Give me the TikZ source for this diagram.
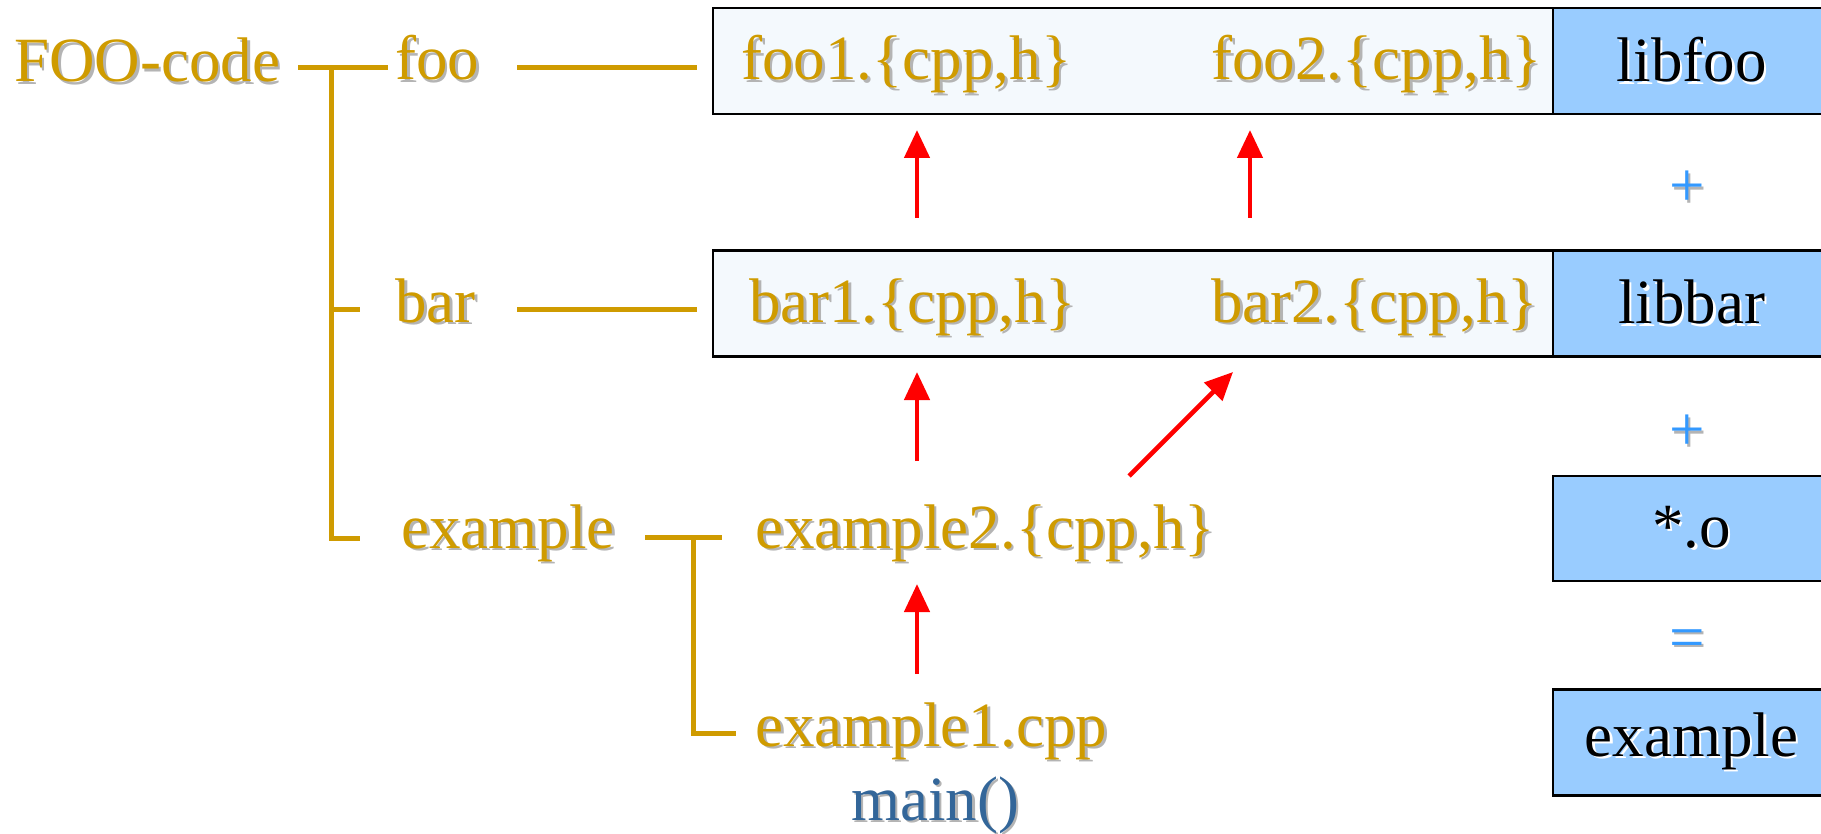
\documentclass[tikz,border=0pt]{standalone}
\usepackage{fontspec}
\setmainfont{Liberation Serif}
\usetikzlibrary{arrows.meta}
\definecolor{gold}{RGB}{207,155,0}
\definecolor{paleblue}{RGB}{244,249,253}
\definecolor{libblue}{RGB}{153,204,255}
\definecolor{opblue}{RGB}{51,153,255}
\definecolor{fnblue}{RGB}{51,102,153}
\definecolor{shadowgray}{RGB}{180,180,180}
\definecolor{depred}{RGB}{255,0,0}
% text with a drop shadow of the given colour
\newcommand\shdc[2]{\leavevmode\rlap{\kern1.3pt\raisebox{-1.3pt}{\color{#1}#2}}#2}
\newcommand\shd[1]{\shdc{shadowgray}{#1}}
\newcommand\shw[1]{\shdc{white}{#1}}

\begin{document}
\begin{tikzpicture}[x=0.5pt,y=-0.5pt,
  lbl/.style={inner sep=0pt, font=\fontsize{31.5}{36}\selectfont},
  src/.style={lbl, text=gold, anchor=base west},
  op/.style={lbl, text=opblue},
  srcbox/.style={draw=black, line width=1.2pt, fill=paleblue, minimum width=420pt, minimum height=53pt, inner sep=0pt},
  libbox/.style={draw=black, line width=1.2pt, fill=libblue, minimum width=138.5pt, minimum height=53pt, lbl, text=black},
  tree/.style={draw=gold, line width=2.5pt},
  dep/.style={draw=depred, line width=2.3pt, -{Triangle[width=12.5pt,length=14pt]}}]
\useasboundingbox (0,0) rectangle (1821,834);
\clip (0,0) rectangle (1821,834);

% source directories
\node[src] (root) at (14,82) {\shd{FOO-code}};
\node[src] (foo) at (395,80) {\shd{foo}};
\node[src] (bar) at (395,322) {\shd{bar}};
\node[src] (ex) at (401,548) {\shd{example}};

% boxes holding the library sources
\node[srcbox] (foobox) at (1133,61) {};
\node[srcbox] (barbox) at (1133,303.5) {};
\node[src] (foo1) at (741,80) {\shd{foo1.\{cpp,h\}}};
\node[src] (foo2) at (1211,80) {\shd{foo2.\{cpp,h\}}};
\node[src] (bar1) at (749,322) {\shd{bar1.\{cpp,h\}}};
\node[src] (bar2) at (1211,322) {\shd{bar2.\{cpp,h\}}};
\node[src] (ex2) at (755,548) {\shd{example2.\{cpp,h\}}};
\node[src] (ex1) at (755,746) {\shd{example1.cpp}};
\node[lbl, text=fnblue, anchor=base] (mainfn) at (935,820) {\shd{main()}};

% link products
\node[libbox] (libfoo) at (1691.5,61) {\shw{libfoo}};
\node[libbox] (libbar) at (1691.5,303.5) {\shw{libbar}};
\node[libbox, minimum height=52.5pt] (objs) at (1691.5,528.5) {\shw{*.o}};
\node[libbox] (exe) at (1691.5,742.5) {\shw{example}};
\node[op] (plus1) at (1687,190) {\shd{+}};
\node[op] (plus2) at (1687,434) {\shd{+}};
\node[op] (eq) at (1687,645) {\shd{=}};

% directory tree
\coordinate (r0) at (298,68);
\coordinate (r1) at (388,68);
\coordinate (rt) at (331,68);
\coordinate (rb) at (331,310);
\coordinate (rbt) at (360,310);
\coordinate (re) at (331,538);
\coordinate (ret) at (360,538);
\draw[tree] (r0) -- (r1);
\draw[tree] (rt) -- (re) -- (ret);
\draw[tree] (rb) -- (rbt);
\coordinate (f0) at (517,68);
\coordinate (f1) at (697,68);
\coordinate (b0) at (517,310);
\coordinate (b1) at (697,310);
\draw[tree] (f0) -- (f1);
\draw[tree] (b0) -- (b1);
\coordinate (e0) at (645,537);
\coordinate (e1) at (722,537);
\coordinate (ev) at (693,537);
\coordinate (eb) at (693,733);
\coordinate (ebt) at (736,733);
\draw[tree] (e0) -- (e1);
\draw[tree] (ev) -- (eb) -- (ebt);

% dependencies
\coordinate (d1s) at (917,218);  \coordinate (d1e) at (917,130);
\coordinate (d2s) at (1250,218); \coordinate (d2e) at (1250,130);
\coordinate (d3s) at (917,461);  \coordinate (d3e) at (917,372);
\coordinate (d4s) at (1129,476); \coordinate (d4e) at (1233,372);
\coordinate (d5s) at (917,674);  \coordinate (d5e) at (917,584);
\draw[dep] (d1s) -- (d1e);
\draw[dep] (d2s) -- (d2e);
\draw[dep] (d3s) -- (d3e);
\draw[dep] (d4s) -- (d4e);
\draw[dep] (d5s) -- (d5e);
\end{tikzpicture}
\end{document}
